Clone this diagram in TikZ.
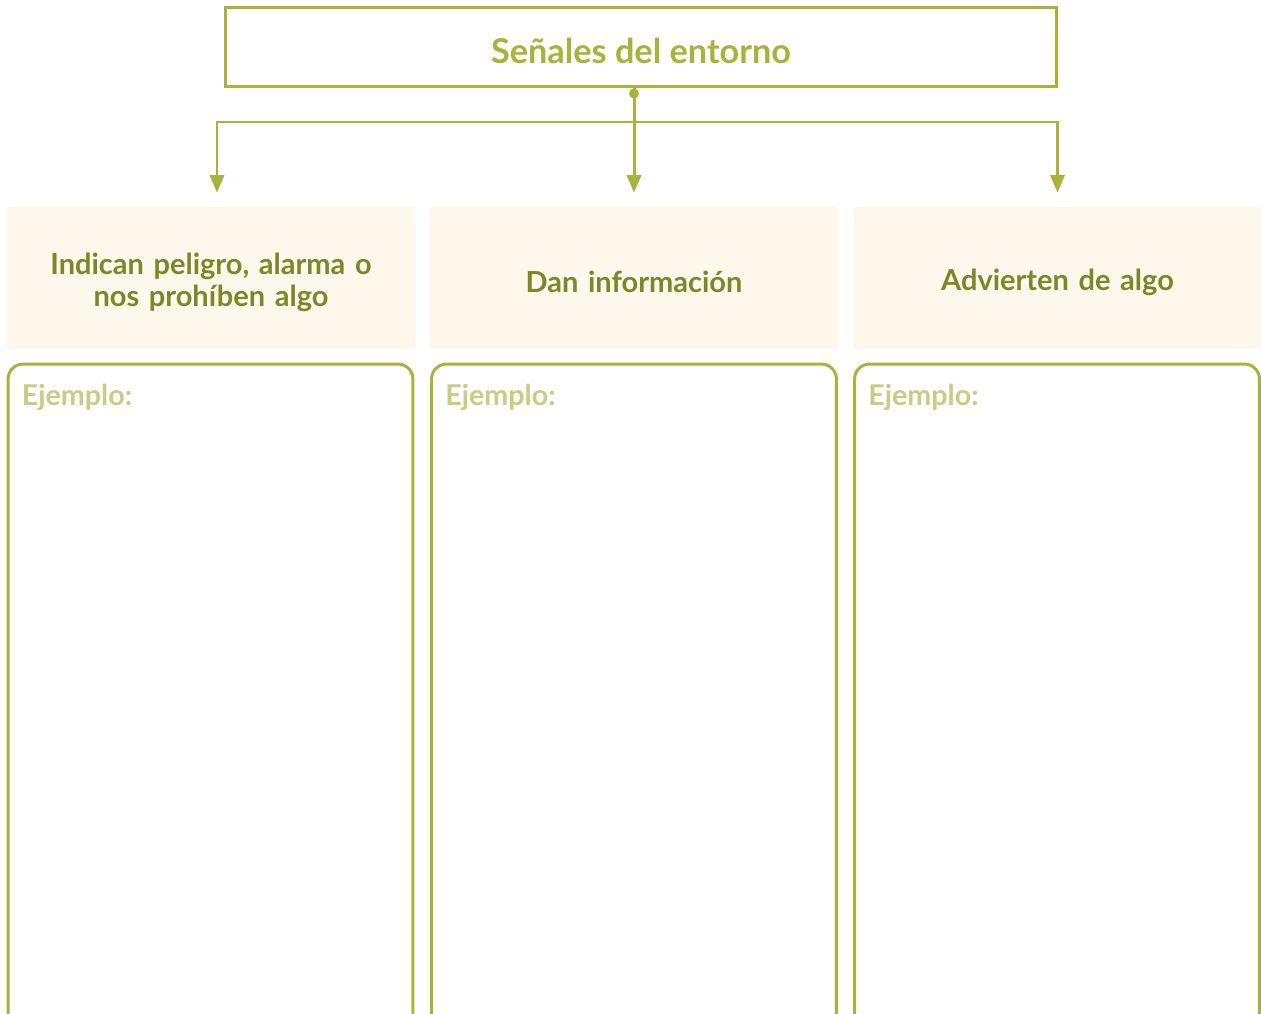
\documentclass[tikz,border=0pt]{standalone}
\usepackage{fontspec}
\setmainfont{Lato}
\usepackage{tikz}
\usetikzlibrary{arrows.meta,positioning}
\usepackage{xcolor}
\definecolor{olive}{HTML}{A9B23A}
\definecolor{darkolive}{HTML}{7E8629}
\definecolor{paleolive}{HTML}{C9CC84}
\definecolor{cream}{HTML}{FEF7EC}

\begin{document}
\begin{tikzpicture}[x=0.02cm, y=-0.02cm,
  titlebox/.style={rectangle, draw=olive, line width=1.7pt, fill=white,
    minimum width=16.64cm, minimum height=1.6cm},
  titletext/.style={inner sep=0pt, font=\fontsize{19.5}{24}\selectfont\bfseries, text=olive},
  headbox/.style={rectangle, fill=cream, minimum width=8.16cm, minimum height=2.84cm},
  headtext/.style={inner sep=0pt, text width=7.6cm, align=center,
    font=\fontsize{16.5}{18.3}\selectfont\bfseries, text=darkolive},
  examplebox/.style={rectangle, rounded corners=15*0.02cm, draw=olive, line width=1.7pt,
    minimum width=8.1cm, minimum height=13.32cm},
  examplelabel/.style={anchor=west, inner sep=0pt,
    font=\fontsize{16.3}{18}\selectfont\bfseries, text=paleolive},
  flow/.style={-{Triangle[width=8pt,length=10pt]}, draw=olive, line width=1.7pt,
    shorten >=0.28cm}
]
\useasboundingbox (0,0) rectangle (1261,1014);
% title
\node[titlebox] (title) at (641,47) {};
\node[titletext] (titlelabel) at (641,51) {Señales del entorno};
% header row
\node[headbox] (head1) at (211,278) {};
\node[headbox] (head2) at (634,278) {};
\node[headbox] (head3) at (1057.5,278) {};
\node[headtext] (text1) at (211,282) {Indican peligro, alarma o\\ nos prohíben algo};
\node[headtext] (text2) at (634,282) {Dan información};
\node[headtext] (text3) at (1057.5,282) {Advierten de algo};
% example boxes
\node[examplebox] (ex1) at (210.5,697) {};
\node[examplebox] (ex2) at (634,697) {};
\node[examplebox] (ex3) at (1057,697) {};
\foreach \x in {ex1,ex2,ex3} {\node[examplelabel] at ([shift={(15,35)}]\x.north west) {Ejemplo:};}
% connectors
\coordinate (start) at (head2 |- title.south);
\coordinate (fork) at (634,122);
\fill[olive] ([yshift=-0.1cm]start) circle (0.1cm);
\draw[flow] (start) -- (head2.north);
\draw[flow] (fork) -| ([xshift=0.12cm]head1.north);
\draw[flow] (fork) -| (head3.north);
\end{tikzpicture}
\end{document}
